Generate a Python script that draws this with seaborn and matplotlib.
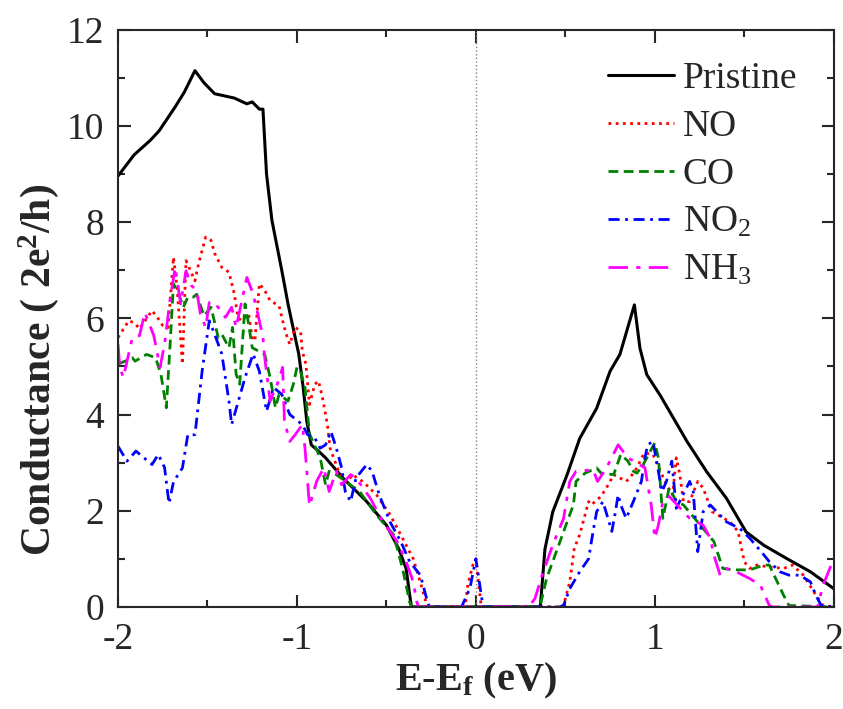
import pandas as pd
import seaborn as sns
from matplotlib import pyplot as plt
from matplotlib.ticker import MultipleLocator

# Pristine
x_pristine = [-2.0, -1.91, -1.82, -1.77, -1.68, -1.63, -1.57, -1.52, -1.46, -1.35, -1.28, -1.25,
              -1.21, -1.19, -1.17, -1.14, -1.085, -1.05, -1.03, -0.99, -0.965, -0.945, -0.92,
              -0.88, -0.84, -0.74, -0.61, -0.50, -0.43, -0.39, -0.37, -0.36, 0.36, 0.386, 0.43,
              0.51, 0.58, 0.675, 0.75, 0.805, 0.886, 0.917, 0.955, 1.03, 1.18, 1.29, 1.40, 1.51,
              1.61, 1.74, 1.87, 2.0]
g_pristine = [8.96, 9.4, 9.7, 9.9, 10.4, 10.7, 11.15, 10.9, 10.67, 10.58, 10.46, 10.5,
              10.35, 10.35, 9.0, 8.04, 7.0, 6.3, 5.95, 5.26, 4.56, 3.86, 3.37,
              3.24, 3.1, 2.67, 2.19, 1.7, 1.2, 0.8, 0.25, 0.0, 0.0, 1.2, 1.98,
              2.75, 3.5, 4.13, 4.9, 5.25, 6.28, 5.38, 4.83, 4.4, 3.44, 2.81, 2.26, 1.56,
              1.28, 1.0, 0.73, 0.38]

# NO
x_no = [-2.0, -1.94, -1.905, -1.88, -1.81, -1.78, -1.75, -1.72, -1.69, -1.67, -1.64, -1.62,
        -1.57, -1.55, -1.51, -1.48, -1.46, -1.42, -1.38, -1.35, -1.33, -1.31, -1.27, -1.25,
        -1.235, -1.21, -1.18, -1.15, -1.10, -1.08, -1.06, -1.04, -1.01, -0.98, -0.97, -0.95,
        -0.93, -0.90, -0.88, -0.86, -0.84, -0.83, -0.815, -0.76, -0.72, -0.69, -0.63, -0.555,
        -0.48, -0.41, -0.35, -0.30, -0.275, -0.26, -0.06, -0.045, -0.017, 0.0, 0.03, 0.46,
        0.49, 0.525, 0.55, 0.58, 0.63, 0.645, 0.70, 0.74, 0.77, 0.84, 0.86, 0.90, 0.94, 0.99,
        1.065, 1.10, 1.12, 1.14, 1.16, 1.195, 1.24, 1.27, 1.32, 1.42, 1.465, 1.50, 1.53, 1.57,
        1.64, 1.72, 1.77, 1.83, 1.90, 1.94, 2.0]
g_no = [5.6, 5.95, 5.9, 5.78, 6.16, 6.02, 5.85, 5.81, 7.27, 6.65, 5.05, 7.2,
        6.78, 7.13, 7.69, 7.62, 7.35, 7.06, 6.96, 6.51, 6.02, 5.95, 6.09, 5.6,
        5.53, 6.72, 6.58, 6.37, 6.26, 5.95, 5.67, 5.46, 5.81, 5.74, 5.32, 5.05,
        4.21, 4.63, 4.7, 4.4, 4.0, 3.8, 3.3, 2.75, 2.6, 2.75, 2.6, 2.33,
        1.92, 1.43, 1.0, 0.38, 0.05, 0.0, 0.0, 0.46, 0.87, 1.0, 0.0, 0.0,
        0.03, 0.52, 1.22, 1.5, 2.19, 2.12, 2.3, 2.54, 2.75, 2.61, 2.68, 2.89, 3.2, 3.17,
        2.54, 2.33, 3.1, 2.75, 2.19, 2.19, 2.61, 2.47, 1.98, 1.77, 1.57, 0.94, 0.8, 0.87,
        0.83, 0.8, 0.87, 0.66, 0.25, 0.03, 0.0]

# CO
x_co = [-2.0, -1.96, -1.92, -1.905, -1.84, -1.79, -1.76, -1.73, -1.71, -1.69, -1.66, -1.635,
        -1.61, -1.58, -1.56, -1.52, -1.48, -1.44, -1.42, -1.38, -1.36, -1.34, -1.32, -1.29,
        -1.27, -1.25, -1.18, -1.15, -1.12, -1.10, -1.05, -1.02, -1.00, -0.98, -0.955, -0.93,
        -0.87, -0.84, -0.82, -0.78, -0.65, -0.555, -0.46, -0.41, -0.37, -0.36, 0.34, 0.36,
        0.395, 0.45, 0.51, 0.545, 0.56, 0.61, 0.675, 0.70, 0.77, 0.81, 0.85, 0.88, 0.90,
        0.935, 1.0, 1.02, 1.045, 1.08, 1.12, 1.16, 1.27, 1.33, 1.38, 1.44, 1.53, 1.61, 1.64,
        1.72, 1.75, 2.0]
g_co = [5.05, 5.11, 5.18, 5.11, 5.25, 5.18, 4.83, 4.14, 5.39, 6.72, 6.5, 6.23,
        6.44, 6.44, 6.5, 6.05, 6.23, 5.6, 5.67, 5.39, 5.81, 4.84, 4.63, 6.3,
        5.88, 5.39, 5.25, 4.77, 4.14, 4.42, 4.28, 4.63, 4.98, 4.9, 4.56, 3.6,
        3.1, 2.54, 2.82, 2.75, 2.4, 1.91, 1.5, 0.8, 0.1, 0.0, 0.0, 0.03,
        0.59, 1.15, 1.77, 2.12, 2.61, 2.78, 2.89, 2.78, 2.75, 3.17, 3.03, 2.82, 2.78,
        2.96, 3.41, 3.1, 1.84, 2.47, 2.2, 2.12, 1.63, 1.36, 0.8, 0.77, 0.77, 0.87, 0.87,
        0.24, 0.03, 0.0]

# NO2
x_no2 = [-2.0, -1.95, -1.90, -1.81, -1.775, -1.74, -1.715, -1.69, -1.64, -1.61, -1.57, -1.53,
         -1.49, -1.46, -1.42, -1.38, -1.365, -1.29, -1.245, -1.21, -1.17, -1.13, -1.085, -1.04,
         -0.97, -0.94, -0.90, -0.87, -0.84, -0.81, -0.78, -0.75, -0.73, -0.70, -0.67, -0.61,
         -0.58, -0.54, -0.48, -0.42, -0.37, -0.31, -0.275, -0.26, -0.08, -0.034, 0.0, 0.02,
         0.04, 0.47, 0.49, 0.525, 0.58, 0.63, 0.655, 0.675, 0.71, 0.76, 0.78, 0.795, 0.81,
         0.84, 0.88, 0.925, 0.945, 0.96, 0.99, 1.04, 1.065, 1.095, 1.12, 1.195, 1.215, 1.23,
         1.24, 1.27, 1.31, 1.40, 1.475, 1.53, 1.61, 1.64, 1.70, 1.75, 1.81, 1.87, 1.90, 1.93,
         2.0]
g_no2 = [3.34, 3.03, 3.24, 2.96, 3.17, 2.9, 2.15, 2.6, 2.89, 3.58, 3.58, 4.9,
         5.95, 5.67, 5.26, 4.28, 3.79, 4.77, 5.26, 4.9, 4.07, 4.56, 4.42, 4.0,
         3.79, 3.58, 3.51, 3.3, 3.37, 3.65, 3.3, 2.89, 2.4, 2.19, 2.68, 2.96,
         2.82, 2.33, 1.77, 1.36, 0.94, 0.66, 0.17, 0.0, 0.0, 0.38, 1.0, 0.5,
         0.0, 0.0, 0.03, 0.38, 0.73, 1.0, 1.57, 1.98, 2.19, 1.57, 1.98, 2.33, 2.12,
         1.84, 2.19, 2.61, 3.1, 3.37, 3.44, 2.4, 2.61, 3.03, 2.05, 2.61, 2.4, 1.63,
         1.15, 1.98, 2.12, 1.77, 1.63, 1.43, 1.08, 0.94, 0.73, 0.66, 0.66, 0.52, 0.24, 0.03,
         0.0]

# NH3
x_nh3 = [-2.0, -1.99, -1.97, -1.92, -1.88, -1.85, -1.80, -1.765, -1.74, -1.71, -1.68, -1.65,
         -1.62, -1.59, -1.56, -1.54, -1.51, -1.49, -1.46, -1.40, -1.365, -1.34, -1.28, -1.245,
         -1.21, -1.19, -1.18, -1.15, -1.11, -1.08, -1.07, -1.04, -1.01, -0.97, -0.955, -0.93,
         -0.89, -0.85, -0.82, -0.78, -0.75, -0.70, -0.67, -0.59, -0.52, -0.44, -0.39, -0.35,
         -0.33, -0.32, 0.25, 0.30, 0.33, 0.37, 0.43, 0.49, 0.525, 0.56, 0.655, 0.68, 0.73,
         0.795, 0.85, 0.945, 0.98, 1.0, 1.02, 1.045, 1.08, 1.195, 1.27, 1.31, 1.33, 1.365,
         1.40, 1.455, 1.53, 1.59, 1.64, 1.66, 1.91, 1.94, 2.0]
g_nh3 = [5.46, 4.98, 4.77, 5.6, 5.64, 6.12, 5.64, 4.98, 5.46, 6.37, 7.06, 6.3,
         6.99, 6.68, 6.58, 6.09, 5.81, 6.33, 6.33, 6.02, 6.23, 5.81, 6.85, 6.51,
         5.95, 5.6, 5.18, 4.28, 4.63, 4.98, 3.86, 3.44, 3.58, 3.79, 3.3, 2.1,
         2.61, 2.89, 2.4, 2.82, 2.54, 2.75, 2.68, 2.26, 1.77, 1.36, 0.94, 0.52,
         0.1, 0.0, 0.0, 0.03, 0.17, 0.66, 1.29, 1.84, 2.61, 2.82, 2.85, 2.61, 2.89,
         3.37, 3.1, 2.89, 2.12, 1.43, 1.7, 2.19, 2.3, 1.84, 1.7, 1.43, 1.08, 0.66,
         0.8, 0.73, 0.59, 0.45, 0.03, 0.0, 0.0, 0.45, 1.0]

series = [
    ("Pristine", x_pristine, g_pristine, "black", "-", 2.2),
    ("NO", x_no, g_no, "red", (0, (1, 1.6)), 2.0),
    ("CO", x_co, g_co, "green", (0, (3.5, 2)), 2.0),
    ("NO$_2$", x_no2, g_no2, "blue", (0, (4, 2, 1, 2)), 2.0),
    ("NH$_3$", x_nh3, g_nh3, "magenta", (0, (7, 3, 1.5, 3)), 2.0),
]

sns.set_style("ticks")
plt.rcParams['font.family'] = ['Liberation Serif', 'DejaVu Serif']
plt.rcParams['mathtext.fontset'] = 'custom'
plt.rcParams['mathtext.rm'] = 'Liberation Serif'
plt.rcParams['mathtext.it'] = 'Liberation Serif:italic'
plt.rcParams['mathtext.bf'] = 'Liberation Serif:bold'
plt.rcParams['axes.unicode_minus'] = False

fig = plt.figure(figsize=(8.43, 7.09), dpi=100)
ax = fig.add_axes([0.14, 0.144, 0.849, 0.814])

ax.axvline(0, color="gray", ls=":", lw=1)
for name, xs, gs, col, ls, lw in series:
    df = pd.DataFrame({"E": xs, "G": gs})
    sns.lineplot(data=df, x="E", y="G", ax=ax, color=col, linestyle=ls, lw=lw,
                 estimator=None, sort=False, label=name)

ax.set_xlim(-2, 2)
ax.set_ylim(0, 12)
ax.xaxis.set_major_locator(MultipleLocator(1))
ax.xaxis.set_minor_locator(MultipleLocator(0.5))
ax.yaxis.set_major_locator(MultipleLocator(2))
ax.yaxis.set_minor_locator(MultipleLocator(1))
ax.tick_params(which="both", direction="in", top=True, right=True, width=1.5, labelsize=27)
ax.tick_params(which="major", length=9)
ax.tick_params(which="minor", length=5)
ax.tick_params(axis="x", pad=11)
ax.tick_params(axis="y", pad=10)
for sp in ax.spines.values():
    sp.set_linewidth(1.5)

ax.set_xlabel(r"E-E$_\mathbf{f}$ (eV)", fontsize=29, fontweight="bold", labelpad=3)
ax.set_ylabel(r"Conductance ( 2e$^\mathbf{2}$/h)", fontsize=30, fontweight="bold")
ax.yaxis.set_label_coords(-0.08, 0.41)

ax.legend(loc="upper right", bbox_to_anchor=(0.965, 0.965), frameon=False, fontsize=27,
          handlelength=1.75, labelspacing=0.36, handletextpad=0.25, borderaxespad=0,
          borderpad=0.3)

fig.savefig("out.png", dpi=100)
